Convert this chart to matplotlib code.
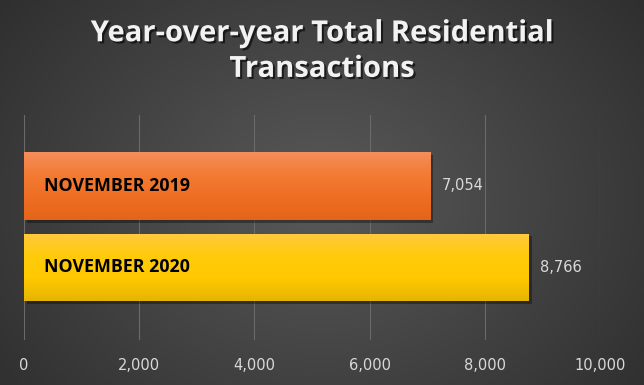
import numpy as np
import matplotlib.pyplot as plt
import matplotlib.patheffects as pe
from matplotlib.colors import LinearSegmentedColormap

# data
months = ["NOVEMBER 2020", "NOVEMBER 2019"]
transactions = [8766, 7054]
value_labels = ["8,766", "7,054"]
xticks = [0, 2000, 4000, 6000, 8000, 10000]
xtick_labels = ["0", "2,000", "4,000", "6,000", "8,000", "10,000"]

bar_colors = [
    ["#FFC93F", "#FFCB0A", "#FFC800", "#E5B500"],   # 2020 yellow
    ["#F38E5B", "#F47A33", "#EE6F24", "#E4641A"],   # 2019 orange
]

fig = plt.figure(figsize=(6.44, 3.85), dpi=100)

# radial grey background
bg = fig.add_axes([0, 0, 1, 1])
yy, xx = np.mgrid[0:385, 0:644]
r = np.sqrt(((xx - 322) / 420.0) ** 2 + ((yy - 200) / 330.0) ** 2)
shade = np.clip(0.35 - 0.17 * r, 0.17, 0.35)
bg.imshow(np.dstack([shade, shade, shade]), aspect="auto", extent=(0, 1, 0, 1))
bg.set_axis_off()

ax = fig.add_axes([0.0373, 0.117, 0.8944, 0.584])
ax.set_facecolor("none")
ax.set_xlim(0, 10000)
ax.set_ylim(-0.89, 1.87)

h = 0.83
shadow = [pe.SimplePatchShadow(offset=(2, -2), shadow_rgbFace="black", alpha=0.35), pe.Normal()]
for i, (lab, val, vl, cols) in enumerate(zip(months, transactions, value_labels, bar_colors)):
    bar = ax.barh(i, val, height=h, color=cols[2], zorder=2)[0]
    bar.set_path_effects(shadow)
    cmap = LinearSegmentedColormap.from_list("g", cols)
    grad = np.linspace(0, 1, 100).reshape(-1, 1)
    im = ax.imshow(grad, cmap=cmap, aspect="auto", extent=(0, val, i - h / 2, i + h / 2),
                   zorder=3, vmin=0, vmax=1)
    im.set_clip_path(bar)
    ax.text(350, i, lab, ha="left", va="center", fontsize=12.8, fontweight="bold",
            color="black", family="Open Sans", zorder=4)
    ax.text(val + 200, i, vl, ha="left", va="center", fontsize=10.5,
            color="#D9D9D9", zorder=4)

ax.set_xticks(xticks)
ax.set_xticklabels(xtick_labels, color="#D9D9D9", fontsize=10.5)
ax.set_yticks([])
ax.tick_params(axis="x", length=0, pad=13)
ax.grid(axis="x", color="#6A6A6A", linewidth=0.8, zorder=0)
for s in ax.spines.values():
    s.set_visible(False)

fig.text(0.5, 0.866, "Year-over-year Total Residential\nTransactions", ha="center", va="center",
         fontsize=21, fontweight="bold", color="#F2F2F2", family="Open Sans", linespacing=1.3,
         path_effects=[pe.withSimplePatchShadow(offset=(1.5, -1.5), shadow_rgbFace="black", alpha=0.6)])

fig.savefig("out.png", dpi=100)
